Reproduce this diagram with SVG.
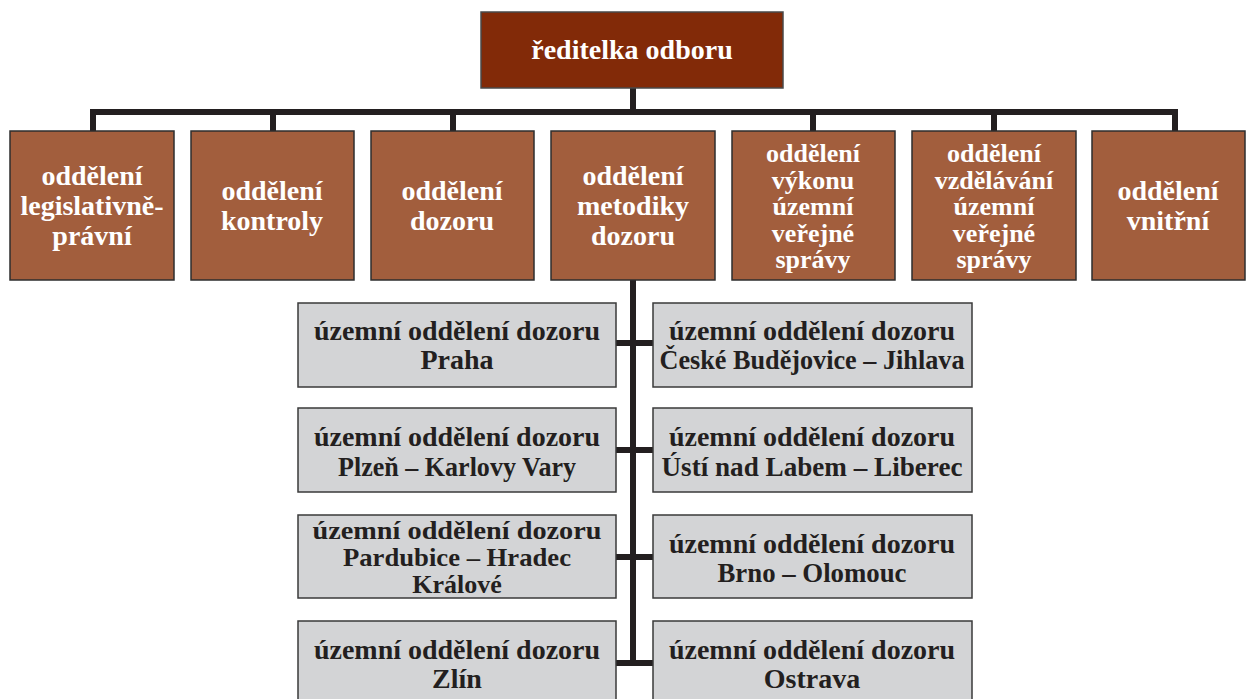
<svg xmlns="http://www.w3.org/2000/svg" width="1246" height="699" viewBox="0 0 1246 699">
<style>
.top{fill:#822a08;stroke:#4a4a4a;stroke-width:1.5}
.dept{fill:#a25e3d;stroke:#2e2e2e;stroke-width:1.5}
.unit{fill:#d3d4d6;stroke:#3a3a3a;stroke-width:1.5}
text{font-family:"Liberation Serif","DejaVu Serif",serif;font-weight:bold;font-size:28px;text-anchor:middle}
.w{fill:#ffffff}
.s{font-size:26px}
.d{fill:#231f20}
.c{stroke:#231f20;stroke-width:6;fill:none}
</style>
<rect width="1246" height="699" fill="#ffffff"/>
<g id="connectors">
<path class="c" d="M633 88 V112 M93 131 V112 H1175 V131 M273 112 V131 M453 112 V131 M813 112 V131 M994 112 V131"/>
<path class="c" d="M633 280 V663 M616 343 H653 M616 450 H653 M616 557 H653 M616 663 H653"/>
</g>
<g id="reditelka">
<rect class="top" x="481" y="12" width="302" height="76"/>
<text class="w" x="632" y="59">ředitelka odboru</text>
</g>
<g id="legislativne">
<rect class="dept" x="10" y="131" width="164" height="149"/>
<text class="w" x="92" y="185">oddělení</text>
<text class="w" x="92" y="215">legislativně-</text>
<text class="w" x="92" y="245">právní</text>
</g>
<g id="kontroly">
<rect class="dept" x="191" y="131" width="163" height="149"/>
<text class="w" x="272" y="200">oddělení</text>
<text class="w" x="272" y="230">kontroly</text>
</g>
<g id="dozoru">
<rect class="dept" x="371" y="131" width="163" height="149"/>
<text class="w" x="452" y="200">oddělení</text>
<text class="w" x="452" y="230">dozoru</text>
</g>
<g id="metodiky">
<rect class="dept" x="551" y="131" width="164" height="149"/>
<text class="w" x="633" y="185">oddělení</text>
<text class="w" x="633" y="215">metodiky</text>
<text class="w" x="633" y="245">dozoru</text>
</g>
<g id="vykonu">
<rect class="dept" x="732" y="131" width="163" height="149"/>
<text class="w s" x="813" y="162">oddělení</text>
<text class="w s" x="813" y="188.5">výkonu</text>
<text class="w s" x="813" y="215">územní</text>
<text class="w s" x="813" y="241.5">veřejné</text>
<text class="w s" x="813" y="268">správy</text>
</g>
<g id="vzdelavani">
<rect class="dept" x="912" y="131" width="164" height="149"/>
<text class="w s" x="994" y="162">oddělení</text>
<text class="w s" x="994" y="188.5">vzdělávání</text>
<text class="w s" x="994" y="215">územní</text>
<text class="w s" x="994" y="241.5">veřejné</text>
<text class="w s" x="994" y="268">správy</text>
</g>
<g id="vnitrni">
<rect class="dept" x="1092" y="131" width="153" height="149"/>
<text class="w" x="1168" y="200">oddělení</text>
<text class="w" x="1168" y="230">vnitřní</text>
</g>
<g id="praha">
<rect class="unit" x="298" y="303" width="318" height="84"/>
<text class="d" x="457" y="340">územní oddělení dozoru</text>
<text class="d" x="457" y="369">Praha</text>
</g>
<g id="cb-jihlava">
<rect class="unit" x="653" y="303" width="319" height="84"/>
<text class="d" x="812" y="340">územní oddělení dozoru</text>
<text class="d" x="812" y="369" textLength="305" lengthAdjust="spacingAndGlyphs">České Budějovice – Jihlava</text>
</g>
<g id="plzen">
<rect class="unit" x="298" y="408" width="318" height="84"/>
<text class="d" x="457" y="446">územní oddělení dozoru</text>
<text class="d" x="457" y="476" textLength="238" lengthAdjust="spacingAndGlyphs">Plzeň – Karlovy Vary</text>
</g>
<g id="usti">
<rect class="unit" x="653" y="408" width="319" height="84"/>
<text class="d" x="812" y="446">územní oddělení dozoru</text>
<text class="d" x="812" y="476" textLength="301" lengthAdjust="spacingAndGlyphs">Ústí nad Labem – Liberec</text>
</g>
<g id="pardubice">
<rect class="unit" x="298" y="515" width="318" height="83"/>
<text class="d s" x="457" y="539" textLength="289" lengthAdjust="spacingAndGlyphs">územní oddělení dozoru</text>
<text class="d s" x="457" y="566" textLength="228" lengthAdjust="spacingAndGlyphs">Pardubice – Hradec</text>
<text class="d s" x="457" y="593">Králové</text>
</g>
<g id="brno">
<rect class="unit" x="653" y="515" width="319" height="83"/>
<text class="d" x="812" y="553">územní oddělení dozoru</text>
<text class="d" x="812" y="582" textLength="189" lengthAdjust="spacingAndGlyphs">Brno – Olomouc</text>
</g>
<g id="zlin">
<rect class="unit" x="298" y="621" width="318" height="84"/>
<text class="d" x="457" y="659">územní oddělení dozoru</text>
<text class="d" x="457" y="688">Zlín</text>
</g>
<g id="ostrava">
<rect class="unit" x="653" y="621" width="319" height="84"/>
<text class="d" x="812" y="659">územní oddělení dozoru</text>
<text class="d" x="812" y="688">Ostrava</text>
</g>
</svg>
